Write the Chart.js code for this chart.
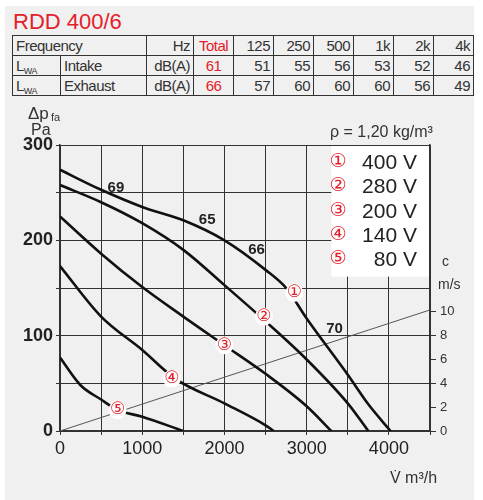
<!DOCTYPE html>
<html><head><meta charset="utf-8">
<script src="https://cdn.jsdelivr.net/npm/chart.js@4/dist/chart.umd.min.js"></script>
<style>
html,body{margin:0;padding:0;background:#fff;width:483px;height:500px;overflow:hidden;font-family:"Liberation Sans",Arial,sans-serif}
#panel{position:absolute;left:5px;top:6px;width:469px;height:494px;background:#f0f0f0}
#title{position:absolute;left:13px;top:9px;color:#e3202a;font:22px "Liberation Sans",Arial,sans-serif}
table{position:absolute;left:12px;top:35px;border-collapse:collapse;font-size:15px;color:#333;letter-spacing:-0.5px}
td{border:1.3px solid #333;height:19px;padding:0 3px;line-height:19px;overflow:hidden}
.r{text-align:right}.c{text-align:center}.red{color:#e3202a}
.s{font-size:9px;position:relative;top:3px;line-height:0}
canvas{position:absolute;left:0;top:0}
</style></head><body>
<div id="panel"></div>
<div id="title">RDD 400/6</div>
<table>
<tr><td colspan="2" style="width:127px">Frequency</td><td class="r" style="width:40px">Hz</td><td class="c red" style="width:33px">Total</td><td class="r" style="width:33px">125</td><td class="r" style="width:33px">250</td><td class="r" style="width:33px">500</td><td class="r" style="width:33px">1k</td><td class="r" style="width:33px">2k</td><td class="r" style="width:33px">4k</td></tr>
<tr><td style="width:41px">L<span class="s">WA</span></td><td>Intake</td><td class="r">dB(A)</td><td class="c red">61</td><td class="r">51</td><td class="r">55</td><td class="r">56</td><td class="r">53</td><td class="r">52</td><td class="r">46</td></tr>
<tr><td>L<span class="s">WA</span></td><td>Exhaust</td><td class="r">dB(A)</td><td class="c red">66</td><td class="r">57</td><td class="r">60</td><td class="r">60</td><td class="r">60</td><td class="r">56</td><td class="r">49</td></tr>
</table>
<canvas id="c" width="483" height="500"></canvas>
<script>
const c1x=[0,500,1000,1500,2000,2500,2750,3000,3500,3750,4020];
const c1y=[274,253,235,221,200,169,150,118,59,28,0];
const c2x=[0,500,1000,1500,2000,2500,3000,3500,3750];
const c2y=[258,240,218,190,153,115,75,29,0];
const c3x=[0,500,1000,1500,2000,2500,3000,3300];
const c3y=[225,186,151,120,90,60,26,0];
const c4x=[0,500,1000,1400,2000,2500,2600];
const c4y=[173,120,85,55,29,6,0];
const c5x=[0,250,500,700,1000,1500];
const c5y=[77,48,33,22,15,0];
const sysX=[0,4500];
const sysY=[0,127];
const curveLabels=[["69",680,255],["65",1790,222],["66",2390,190],["70",3340,107]];
const circleMarks=[["①",2850,145],["②",2480,120],["③",2000,90],["④",1360,55],["⑤",700,22]];
const legendLabels=["400 V","280 V","200 V","140 V","80 V"];
const xTicks=[0,1000,2000,3000,4000];
const yTicks=[0,100,200,300];
const cTicks=[0,2,4,6,8,10];

const pts=(xs,ys)=>xs.map((x,i)=>({x,y:ys[i]}));
const curve=(xs,ys)=>({data:pts(xs,ys),borderColor:'#111',borderWidth:2.6,pointRadius:0,tension:0.4,cubicInterpolationMode:'monotone',yAxisID:'y'});
const datasets=[curve(c1x,c1y),curve(c2x,c2y),curve(c3x,c3y),curve(c4x,c4y),curve(c5x,c5y),
 {data:pts(sysX,sysY),borderColor:'#555',borderWidth:1,pointRadius:0,yAxisID:'y'}];

const deco={id:'deco',
 beforeDatasetsDraw(ch){const {ctx,scales:{x,y},chartArea:a}=ch;ctx.save();ctx.fillStyle='#fff';
  ctx.fillRect(x.getPixelForValue(3300),a.top+1,a.right-x.getPixelForValue(3300)-1,y.getPixelForValue(163)-a.top);ctx.restore();},
 afterDatasetsDraw(ch){const {ctx,scales:{x,y},chartArea:a}=ch;ctx.save();
  ctx.font='bold 15px "Liberation Sans",Arial';ctx.fillStyle='#222';ctx.textAlign='center';ctx.textBaseline='middle';
  curveLabels.forEach(([t,vx,vy])=>ctx.fillText(t,x.getPixelForValue(vx),y.getPixelForValue(vy)));
  circleMarks.forEach(([t,vx,vy])=>{const px=x.getPixelForValue(vx),py=y.getPixelForValue(vy);
   ctx.fillStyle='#fff';ctx.beginPath();ctx.arc(px,py,9,0,7);ctx.fill();
   ctx.fillStyle='#e3202a';ctx.font='17px "DejaVu Sans"';ctx.fillText(t,px,py);});
  const lx=x.getPixelForValue(3380);
  legendLabels.forEach((t,i)=>{const py=y.getPixelForValue(282-i*25.5);
   ctx.fillStyle='#e3202a';ctx.font='19px "DejaVu Sans"';ctx.textAlign='center';ctx.fillText(circleMarks[i][0],lx,py);
   ctx.fillStyle='#222';ctx.font='21px "Liberation Sans",Arial';ctx.textAlign='right';ctx.fillText(t,a.right-13,py+1);});
  ctx.textAlign='left';ctx.fillStyle='#333';ctx.font='14px "Liberation Sans",Arial';
  ctx.fillText('c',442,262);ctx.fillText('m/s',438,285);
  ctx.font='16px "Liberation Sans",Arial';ctx.fillText('ρ = 1,20 kg/m³',330,133);
  ctx.font='17px "Liberation Sans",Arial';ctx.fillText('Δp',28,114);ctx.font='11px "Liberation Sans",Arial';ctx.fillText('fa',51,118);
  ctx.font='16px "Liberation Sans",Arial';ctx.fillText('Pa',31,131);
  ctx.fillText('V̇ m³/h',390,479);
  ctx.restore();}};

new Chart(document.getElementById('c'),{type:'line',data:{datasets},plugins:[deco],
 options:{responsive:false,animation:false,layout:{padding:{top:145,left:0,right:0,bottom:0}},
  plugins:{legend:{display:false},tooltip:{enabled:false}},
  scales:{
   x:{type:'linear',min:0,max:4500,afterFit(s){s.height=69;},afterBuildTicks(s){s.ticks=[0,500,1000,1500,2000,2500,3000,3500,4000,4500].map(v=>({value:v}));},
    grid:{color:'#333',lineWidth:1,tickLength:4},border:{color:'#333',width:1.5},
    ticks:{color:'#222',font:{size:18,family:'"Liberation Sans",Arial'},maxRotation:0,autoSkip:false,callback:v=>xTicks.includes(v)?String(v):''}},
   y:{min:0,max:300,afterFit(s){s.width=60;},afterBuildTicks(s){s.ticks=[0,50,100,150,200,250,300].map(v=>({value:v}));},
    grid:{color:'#333',lineWidth:1,tickLength:4},border:{color:'#333',width:1.5},
    ticks:{color:'#222',font:{size:18,weight:'bold',family:'"Liberation Sans",Arial'},autoSkip:false,callback:v=>yTicks.includes(v)?String(v):''}},
   yc:{position:'right',min:0,max:24,afterFit(s){s.width=53;},afterBuildTicks(s){s.ticks=cTicks.map(v=>({value:v}));},
    grid:{drawOnChartArea:false,color:'#333',tickLength:6},border:{color:'#333',width:1.5},
    ticks:{color:'#333',font:{size:13,family:'"Liberation Sans",Arial'},padding:4}}
  }}});
</script></body></html>
